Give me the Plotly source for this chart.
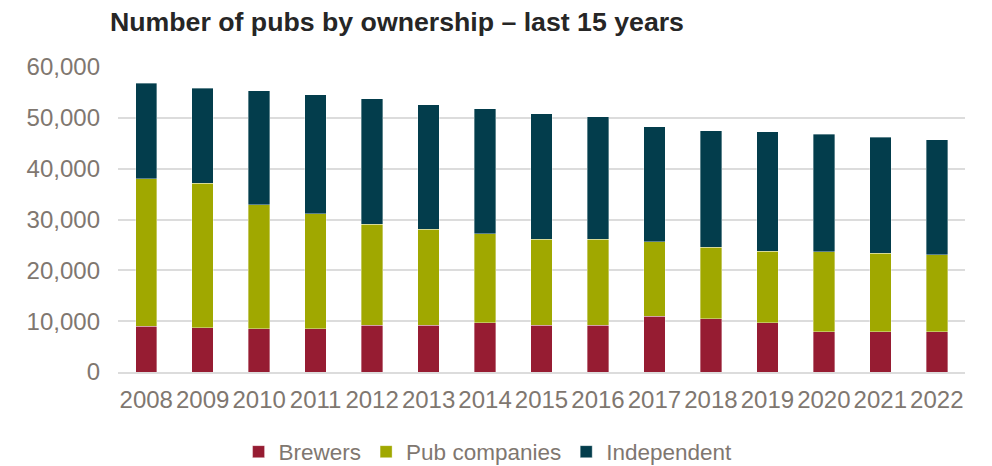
import plotly.graph_objects as go

years = [str(y) for y in range(2008, 2023)]
brewers = [8980, 8720, 8520, 8520, 9180, 9180, 9700, 9180, 9180, 10950, 10490, 9700, 7930, 7930, 7930]
pub_companies = [28990, 28460, 24400, 22630, 19930, 18890, 17450, 16920, 16920, 14690, 14100, 14100, 15680, 15410, 15150]
independent = [18880, 18620, 22420, 23410, 24660, 24520, 24650, 24720, 24130, 22620, 22890, 23480, 23140, 22890, 22620]

series = [
    ("Brewers", brewers, "#961c32"),
    ("Pub companies", pub_companies, "#a0a800"),
    ("Independent", independent, "#033d4c"),
]

FONT = "Liberation Sans, Arial, sans-serif"
TICK_COLOR = "#7f7770"

fig = go.Figure()
for name, vals, color in series:
    fig.add_trace(go.Bar(
        x=years, y=vals, name=name,
        marker=dict(color=color, line=dict(color="rgba(255,255,255,0.6)", width=0.6)),
    ))

fig.update_layout(
    barmode="stack",
    bargap=0.62,
    width=992, height=466,
    margin=dict(l=118, r=27, t=67, b=94),
    paper_bgcolor="white",
    plot_bgcolor="white",
    font=dict(family=FONT, size=24, color=TICK_COLOR),
    title=dict(
        text="<b>Number of pubs by ownership – last 15 years</b>",
        font=dict(family=FONT, size=26.7, color="#262626"),
        xref="container", x=110 / 992, xanchor="left",
        yref="container", y=1 - 22 / 466, yanchor="middle",
    ),
    legend=dict(
        orientation="h",
        xref="container", x=0.492, xanchor="center",
        yref="container", y=1 - 452 / 466, yanchor="middle",
        font=dict(family=FONT, size=22.5, color=TICK_COLOR),
        traceorder="normal",
        itemclick=False,
    ),
    showlegend=True,
)

fig.update_yaxes(
    range=[0, 60000],
    tickvals=[0, 10000, 20000, 30000, 40000, 50000, 60000],
    tickformat=",d",
    showgrid=True, gridcolor="#dcdcdc", gridwidth=2,
    zeroline=False,
    showline=False,
    ticks="",
    ticklabelstandoff=17,
    tickfont=dict(family=FONT, size=24, color=TICK_COLOR),
)
fig.update_xaxes(
    showline=True, linecolor="#dcdcdc", linewidth=2,
    ticks="",
    tickfont=dict(family=FONT, size=24, color=TICK_COLOR),
    ticklabelstandoff=5,
)

fig.write_html("out.html")
